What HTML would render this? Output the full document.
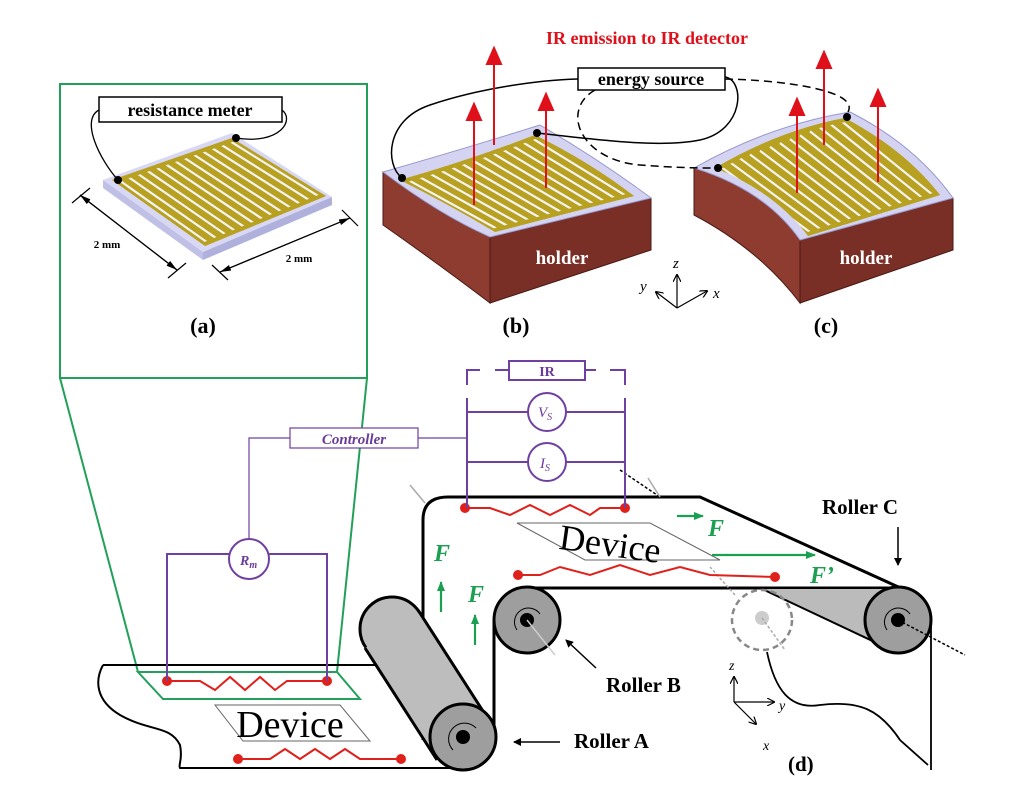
<!DOCTYPE html>
<html><head><meta charset="utf-8"><style>
html,body{margin:0;padding:0;background:#fff}
svg{display:block}
text{font-family:"Liberation Serif",serif}
</style></head><body>
<svg width="1024" height="809" viewBox="0 0 1024 809" xmlns="http://www.w3.org/2000/svg">
<defs>
<marker id="ar" markerWidth="8" markerHeight="8" refX="7" refY="4" orient="auto" markerUnits="userSpaceOnUse"><path d="M0,0 L8,4 L0,8 Z" fill="#000"/></marker>
<marker id="ag" markerWidth="10" markerHeight="8" refX="9" refY="4" orient="auto" markerUnits="userSpaceOnUse"><path d="M0,0 L10,4 L0,8 Z" fill="#1aa050"/></marker>
<marker id="ax" markerWidth="8" markerHeight="8" refX="7" refY="4" orient="auto" markerUnits="userSpaceOnUse"><path d="M0,0 L8,4 L0,8" fill="none" stroke="#000" stroke-width="1.2"/></marker>
<marker id="dim" markerWidth="12" markerHeight="8" refX="11" refY="4" orient="auto" markerUnits="userSpaceOnUse"><path d="M0,1 L11,4 L0,7 Z" fill="#000"/></marker>
<clipPath id="ga"><path d="M112,180 L232,138 L326,196 L205,246 Z"/></clipPath>
<clipPath id="gb"><path d="M400,180 Q470,160 535,135 Q590,162 634,196 L495,232 Q450,205 400,180 Z"/></clipPath>
<clipPath id="gc"><path d="M715,168 Q780,130 845,118 Q905,150 940,195 L808,236 Q775,192 715,168 Z"/></clipPath>
</defs>

<!-- (a) panel -->
<rect x="60" y="84" width="307" height="294" fill="none" stroke="#22a05a" stroke-width="2"/>
<path d="M60,378 L138,672 M367,378 L337,672" stroke="#22a05a" stroke-width="2" fill="none"/>
<rect x="99" y="97" width="183" height="25" fill="#fff" stroke="#000" stroke-width="1.5"/>
<text x="190" y="116" font-size="18" font-weight="bold" text-anchor="middle">resistance meter</text>
<path d="M103,180 L232,133 L332,197 L203,252 Z" fill="#d8d8f4"/>
<path d="M103,180 L203,252 L203,260 L103,188 Z" fill="#c0c0e6"/>
<path d="M203,252 L332,197 L332,205 L203,260 Z" fill="#b0b0dc"/>
<path d="M112,180 L232,138 L326,196 L205,246 Z" fill="#b8a020"/>
<g clip-path="url(#ga)" stroke="#f4f4f4" stroke-width="2.2">
<path d="M116.6,178.4 L209.7,244.1 M125.8,175.2 L219,240.2 M135.1,171.9 L228.3,236.4 M144.3,168.7 L237.6,232.5 M153.5,165.5 L246.9,228.7 M162.8,162.2 L256.2,224.8 M172,159 L265.5,221 M181.2,155.8 L274.8,217.2 M190.5,152.5 L284.1,213.3 M199.7,149.3 L293.4,209.5 M208.9,146.1 L302.7,205.6 M218.2,142.8 L312,201.8 M227.4,139.6 L321.3,197.9"/>
</g>
<path d="M112,181 L232,139 M205,245 L326,195" stroke="#b8a020" stroke-width="6" clip-path="url(#ga)"/>
<circle cx="118" cy="180" r="4" fill="#000"/><circle cx="236" cy="138" r="4" fill="#000"/>
<path d="M118,180 C100,160 80,120 99,110 M236,138 C280,145 295,120 282,110" fill="none" stroke="#000" stroke-width="1.3"/>
<path d="M80,195 L177,270" stroke="#000" stroke-width="1.2" marker-end="url(#dim)"/>
<path d="M177,270 L80,195" stroke="#000" stroke-width="1.2" marker-end="url(#dim)"/>
<path d="M72,203 L90,188 M168,278 L186,263 M212,265 L228,280 M342,210 L358,226" stroke="#000" stroke-width="1.2"/>
<path d="M220,272 L350,218" stroke="#000" stroke-width="1.2" marker-end="url(#dim)"/>
<path d="M350,218 L220,272" stroke="#000" stroke-width="1.2" marker-end="url(#dim)"/>
<text x="107" y="248" font-size="11" font-weight="bold" text-anchor="middle">2 mm</text>
<text x="299" y="262" font-size="11" font-weight="bold" text-anchor="middle">2 mm</text>
<text x="203" y="333" font-size="22" font-weight="bold" text-anchor="middle">(a)</text>

<!-- (b) -->
<text x="647" y="44" font-size="18" font-weight="bold" fill="#e0101a" text-anchor="middle">IR emission to IR detector</text>
<path d="M383,172 Q440,215 490,237 L490,303 Q440,265 383,225 Z" fill="#8e3b30" stroke="#4a1a14" stroke-width="1"/>
<path d="M490,237 L651,198 L651,250 L490,303 Z" fill="#7a2f26" stroke="#4a1a14" stroke-width="1"/>
<path d="M383,172 Q460,150 540,125 Q600,160 651,198 L490,237 Q440,215 383,172 Z" fill="#d4d4f2" stroke="#9999cc" stroke-width="1"/>
<path d="M400,180 Q470,160 535,135 Q590,162 634,196 L495,232 Q450,205 400,180 Z" fill="#b8a020"/>
<g clip-path="url(#gb)" stroke="#f4f4f4" stroke-width="2.2" fill="none">
<path d="M405.2,178.3 L500.3,230.6 M415.6,174.8 L511,227.8 M426,171.4 L521.7,225.1 M436.3,167.9 L532.4,222.3 M446.7,164.4 L543.1,219.5 M457.1,161 L553.8,216.8 M467.5,157.5 L564.5,214 M477.9,154.1 L575.2,211.2 M488.2,150.6 L585.9,208.5 M498.6,147.1 L596.6,205.7 M509,143.7 L607.2,202.9 M519.4,140.2 L617.9,200.1 M529.8,136.8 L628.6,197.4"/>
</g>
<path d="M400,181 Q470,161 535,136 M495,231 L634,195" stroke="#b8a020" stroke-width="6" fill="none" clip-path="url(#gb)"/>
<text x="562" y="264" font-size="19" font-weight="bold" fill="#fff" text-anchor="middle">holder</text>
<!-- (c) -->
<path d="M694,168 Q765,190 800,240 L800,303 Q760,250 694,215 Z" fill="#8e3b30" stroke="#4a1a14" stroke-width="1"/>
<path d="M800,240 L953,198 L953,250 L800,303 Z" fill="#7a2f26" stroke="#4a1a14" stroke-width="1"/>
<path d="M694,168 Q770,125 850,112 Q915,145 953,198 L800,240 Q765,190 694,168 Z" fill="#d4d4f2" stroke="#9999cc" stroke-width="1"/>
<path d="M715,168 Q780,130 845,118 Q905,150 940,195 L808,236 Q775,192 715,168 Z" fill="#b8a020"/>
<g clip-path="url(#gc)" stroke="#f4f4f4" stroke-width="2.2" fill="none">
<path d="M720,166.1 L813.1,234.4 M730,162.2 L823.2,231.3 M740,158.4 L833.4,228.1 M750,154.5 L843.5,225 M760,150.7 L853.7,221.8 M770,146.8 L863.8,218.7 M780,143 L874,215.5 M790,139.1 L884.1,212.4 M800,135.3 L894.3,209.2 M810,131.4 L904.4,206.1 M820,127.6 L914.6,202.9 M830,123.7 L924.7,199.8 M840,119.9 L934.9,196.6"/>
</g>
<path d="M715,169 Q780,131 845,119 M808,235 L940,194" stroke="#b8a020" stroke-width="6" fill="none" clip-path="url(#gc)"/>
<text x="866" y="264" font-size="19" font-weight="bold" fill="#fff" text-anchor="middle">holder</text>
<!-- wires -->
<rect x="578" y="68" width="147" height="22" fill="#fff" stroke="#000" stroke-width="1.5"/>
<text x="651" y="85" font-size="18" font-weight="bold" text-anchor="middle">energy source</text>
<path d="M402,178 C385,165 385,120 430,105 C480,88 540,80 578,79" fill="none" stroke="#000" stroke-width="1.5"/>
<path d="M537,133 C600,140 660,148 700,140 C745,130 745,80 725,77" fill="none" stroke="#000" stroke-width="1.5"/>
<path d="M595,90 C560,110 580,160 640,165 C680,168 700,168 718,168" fill="none" stroke="#000" stroke-width="1.5" stroke-dasharray="8,5"/>
<path d="M725,79 C780,80 860,90 848,112" fill="none" stroke="#000" stroke-width="1.5" stroke-dasharray="8,5"/>
<g fill="#000"><circle cx="402" cy="178" r="4"/><circle cx="537" cy="133" r="4"/><circle cx="718" cy="168" r="4"/><circle cx="847" cy="117" r="4"/></g>
<g stroke="#e0101a" stroke-width="2" fill="#e0101a">
<path d="M474,205 L474,118"/><path d="M467,120 L474,104 L481,120 Z"/>
<path d="M494,145 L494,62"/><path d="M487,64 L494,48 L501,64 Z"/>
<path d="M546,188 L546,108"/><path d="M539,110 L546,94 L553,110 Z"/>
<path d="M797,193 L797,113"/><path d="M790,115 L797,99 L804,115 Z"/>
<path d="M824,145 L824,66"/><path d="M817,68 L824,52 L831,68 Z"/>
<path d="M878,182 L878,104"/><path d="M871,106 L878,90 L885,106 Z"/>
</g>
<g stroke="#000" stroke-width="1.2" fill="none">
<path d="M677,308 L677,275" marker-end="url(#ax)"/>
<path d="M677,308 L656,292" marker-end="url(#ax)"/>
<path d="M677,308 L707,291" marker-end="url(#ax)"/>
</g>
<g font-size="15" font-style="italic"><text x="673" y="268">z</text><text x="640" y="291">y</text><text x="713" y="298">x</text></g>
<text x="516" y="333" font-size="22" font-weight="bold" text-anchor="middle">(b)</text>
<text x="826" y="333" font-size="22" font-weight="bold" text-anchor="middle">(c)</text>

<!-- (d) bottom -->
<path d="M103,665 L420,665 M103,665 C95,680 95,700 120,715 C150,732 170,725 180,745 C183,760 178,765 180,768 L470,768" fill="none" stroke="#000" stroke-width="2"/>
<path d="M138,672 L337,672 L360,699 L163,699 Z" fill="none" stroke="#22a05a" stroke-width="2"/>
<path d="M215,705 L340,705 L370,741 L243,741 Z" fill="#fff" stroke="#666" stroke-width="1"/>
<text x="290" y="737" font-size="38" text-anchor="middle">Device</text>
<path d="M423,740 L423,520 Q423,497 448,497 L700,497 L905,590" fill="none" stroke="#000" stroke-width="3"/>
<path d="M494,735 L494,620 M527,588 L905,588" fill="none" stroke="#000" stroke-width="3"/>
<path d="M931,625 L931,770 M767,652 C775,690 790,710 820,705 C860,700 880,710 900,740 L928,765" fill="none" stroke="#000" stroke-width="1.8"/>
<path d="M760,588 L900,588 L898,653 Z" fill="#bbb" stroke="#000" stroke-width="2"/>
<circle cx="762" cy="620" r="30" fill="none" stroke="#888" stroke-width="2.5" stroke-dasharray="6,4"/>
<circle cx="762" cy="618" r="7" fill="#ccc"/>
<path d="M762,618 L785,650 M735,595 L710,567" stroke="#aaa" stroke-width="1.5" stroke-dasharray="3,2"/>
<!-- roller A -->
<circle cx="392" cy="629" r="32" fill="#bdbdbd" stroke="#000" stroke-width="3"/>
<path d="M365,648 L432,755 L490,722 L420,612 Z" fill="#bdbdbd"/>
<path d="M365,648 L437,760 M418,610 L490,722" stroke="#000" stroke-width="3"/>
<circle cx="463" cy="737" r="33" fill="#9e9e9e" stroke="#000" stroke-width="3"/>
<circle cx="463" cy="737" r="7" fill="#000"/>
<path d="M453,750 A14,14 0 1,1 476,728" fill="none" stroke="#000" stroke-width="1"/>
<circle cx="527" cy="620" r="33" fill="#9e9e9e" stroke="#000" stroke-width="3"/>
<circle cx="527" cy="620" r="7" fill="#000"/>
<path d="M527,620 L555,655" stroke="#ccc" stroke-width="1.5"/>
<path d="M517,630 A14,14 0 1,1 540,614" fill="none" stroke="#000" stroke-width="1"/>
<circle cx="898" cy="620" r="33" fill="#9e9e9e" stroke="#000" stroke-width="3"/>
<circle cx="898" cy="620" r="7" fill="#000"/>
<path d="M887,630 A14,14 0 1,1 910,614" fill="none" stroke="#000" stroke-width="1"/>
<path d="M898,620 L965,655" stroke="#000" stroke-width="1.5" stroke-dasharray="3,2"/>
<path d="M620,470 L660,497" stroke="#000" stroke-width="1.5" stroke-dasharray="3,2"/>
<path d="M648,478 L660,497 M410,485 L425,503" stroke="#aaa" stroke-width="1.5"/>
<path d="M517,523 L650,523 L720,560 L585,560 Z" fill="#fff" stroke="#666" stroke-width="1"/>
<text x="610" y="556" font-size="36" text-anchor="middle" transform="rotate(8 610 545)">Device</text>
<g stroke="#e0201a" stroke-width="2" fill="none">
<path d="M167,681 L200,681 L215,690 L230,677 L245,690 L260,677 L275,690 L287,681 L327,681"/>
<path d="M238,759 L270,759 L285,749 L300,759 L315,749 L330,759 L345,749 L360,759 L401,759"/>
<path d="M465,508 L490,508 L510,515 L530,505 L550,515 L570,505 L590,515 L600,508 L625,508"/>
<path d="M518,575 L540,575 L560,567 L590,575 L620,565 L650,575 L680,567 L710,575 L775,577"/>
</g>
<g fill="#e0201a"><circle cx="167" cy="681" r="5"/><circle cx="327" cy="681" r="5"/><circle cx="238" cy="759" r="5"/><circle cx="401" cy="759" r="5"/><circle cx="465" cy="508" r="5"/><circle cx="625" cy="508" r="5"/><circle cx="518" cy="575" r="5"/><circle cx="775" cy="577" r="5"/></g>
<g stroke="#7040a0" stroke-width="2" fill="none">
<path d="M167,681 L167,554 L229,554 M269,554 L327,554 L327,681"/>
<circle cx="249" cy="559" r="20" fill="#fff"/>
<path d="M467,508 L467,398 M625,508 L625,398 M467,412 L528,412 M566,412 L625,412 M467,462 L528,462 M566,462 L625,462"/>
<path d="M467,385 L467,370 L480,370 M495,370 L509,370 M585,370 L596,370 M610,370 L625,370 L625,385"/>
<rect x="509" y="361" width="76" height="19" fill="#fff"/>
<circle cx="547" cy="412" r="19" fill="#fff"/>
<circle cx="547" cy="462" r="19" fill="#fff"/>
</g>
<g stroke="#7040a0" stroke-width="1.2" fill="none">
<path d="M418,438 L467,438 M290,438 L249,438 L249,539"/>
<rect x="290" y="428" width="128" height="20" fill="#fff"/>
</g>
<g fill="#6a3a9a" font-weight="bold">
<text x="547" y="376" font-size="14" text-anchor="middle">IR</text>
<text x="354" y="444" font-size="15" font-style="italic" text-anchor="middle">Controller</text>
<text x="240" y="565" font-size="14" font-style="italic">R<tspan font-size="10" dy="3">m</tspan></text>
<text x="538" y="417" font-size="15" font-style="italic" font-weight="normal">V<tspan font-size="10" dy="3">S</tspan></text>
<text x="540" y="468" font-size="15" font-style="italic" font-weight="normal">I<tspan font-size="10" dy="3">S</tspan></text>
</g>
<g stroke="#1aa050" stroke-width="2.2">
<path d="M677,516 L703,516" marker-end="url(#ag)"/>
<path d="M712,555 L815,555" marker-end="url(#ag)"/>
<path d="M441,612 L441,582" marker-end="url(#ag)"/>
<path d="M475,645 L475,615" marker-end="url(#ag)"/>
</g>
<g fill="#1aa050" font-weight="bold" font-style="italic" font-size="24">
<text x="708" y="536">F</text><text x="810" y="583">F’</text>
<text x="434" y="561">F</text><text x="468" y="602">F</text>
</g>
<g font-weight="bold" font-size="21">
<text x="822" y="514">Roller C</text>
<text x="606" y="692">Roller B</text>
<text x="574" y="748">Roller A</text>
<text x="788" y="771">(d)</text>
</g>
<g stroke="#000" stroke-width="1.5">
<path d="M898,527 L898,565" marker-end="url(#ar)"/>
<path d="M596,668 L566,640" marker-end="url(#ar)"/>
<path d="M560,742 L514,742" marker-end="url(#ar)"/>
</g>
<g stroke="#000" stroke-width="1.2" fill="none">
<path d="M734,702 L734,677" marker-end="url(#ax)"/>
<path d="M734,702 L774,702" marker-end="url(#ax)"/>
<path d="M734,702 L756,724" marker-end="url(#ax)"/>
</g>
<g font-size="14" font-style="italic"><text x="729" y="670">z</text><text x="779" y="710">y</text><text x="763" y="750">x</text></g>
</svg>
</body></html>
